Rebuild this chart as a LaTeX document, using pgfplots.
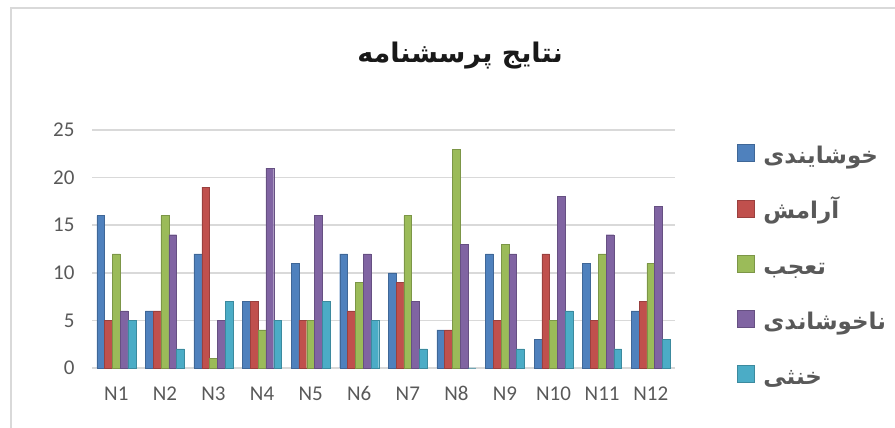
\documentclass[border=0pt]{standalone}
\usepackage{pgfplots}
\pgfplotsset{compat=1.18}
\usepackage{fontspec}
\setmainfont{Carlito}
\newfontfamily\arabicfont[Script=Arabic]{DejaVu Sans}
\TeXXeTstate=1
\definecolor{cA}{HTML}{4F81BD}
\definecolor{cB}{HTML}{C0504D}
\definecolor{cC}{HTML}{9BBB59}
\definecolor{cD}{HTML}{8064A2}
\definecolor{cE}{HTML}{4BACC6}
\definecolor{txt}{HTML}{595959}
\definecolor{gridc}{HTML}{D9D9D9}
\pgfplotstableread{
x a b c d e
0 16 5 12 6 5
1 6 6 16 14 2
2 12 19 1 5 7
3 7 7 4 21 5
4 11 5 5 16 7
5 12 6 9 12 5
6 10 9 16 7 2
7 4 4 23 13 0
8 12 5 13 12 2
9 3 12 5 18 6
10 11 5 12 14 2
11 6 7 11 17 3
}\data
\begin{document}
\begin{tikzpicture}[x=1pt,y=1pt]
\useasboundingbox (0,0) rectangle (895,428);
\draw[gridc, line width=1.5pt] (11,0) -- (11,420) -- (895,420);
\node[font=\arabicfont\bfseries\fontsize{27}{32}\selectfont, text=black!90] at (460,372) {\beginR نتایج پرسشنامه\endR};
\begin{axis}[
  at={(92pt,60pt)}, anchor=south west,
  scale only axis, width=583pt, height=238pt,
  ymin=0, ymax=25, ytick={0,5,...,25},
  xmin=-0.5, xmax=11.5,
  xtick={0,...,11},
  xticklabels={N1,N2,N3,N4,N5,N6,N7,N8,N9,N10,N11,N12},
  ybar=0pt, bar width=7.8pt,
  axis line style={draw=none},
  major tick style={draw=none},
  ymajorgrids, grid style={gridc, line width=1.5pt},
  tick label style={text=txt, font=\fontsize{21}{24}\selectfont},
  /pgf/number format/assume math mode=true,
  yticklabel style={xshift=-14pt},
  xticklabel style={text height=13pt, text depth=0pt, anchor=north, yshift=-12pt},
  clip=false,
  legend style={at={(1.106,0.94)}, anchor=north west, draw=none, fill=none,
    inner sep=0pt,
    font=\arabicfont\bfseries\fontsize{23}{27}\selectfont, text=txt,
    nodes={text height=14pt, text depth=6pt, inner sep=0pt, inner xsep=9pt},
    row sep=30pt, legend cell align=left},
  legend image code/.code={\fill[#1] (0pt,-2pt) rectangle (17pt,15pt);},
]
\addplot[fill=cA, draw=cA!80!black] table[x=x,y=a]{\data};
\addplot[fill=cB, draw=cB!80!black] table[x=x,y=b]{\data};
\addplot[fill=cC, draw=cC!80!black] table[x=x,y=c]{\data};
\addplot[fill=cD, draw=cD!80!black] table[x=x,y=d]{\data};
\addplot[fill=cE, draw=cE!80!black] table[x=x,y=e]{\data};
\legend{\beginR خوشایندی\endR, \beginR آرامش\endR, \beginR تعجب\endR, \beginR ناخوشاندی\endR, \beginR خنثی\endR}
\end{axis}
\end{tikzpicture}
\end{document}
